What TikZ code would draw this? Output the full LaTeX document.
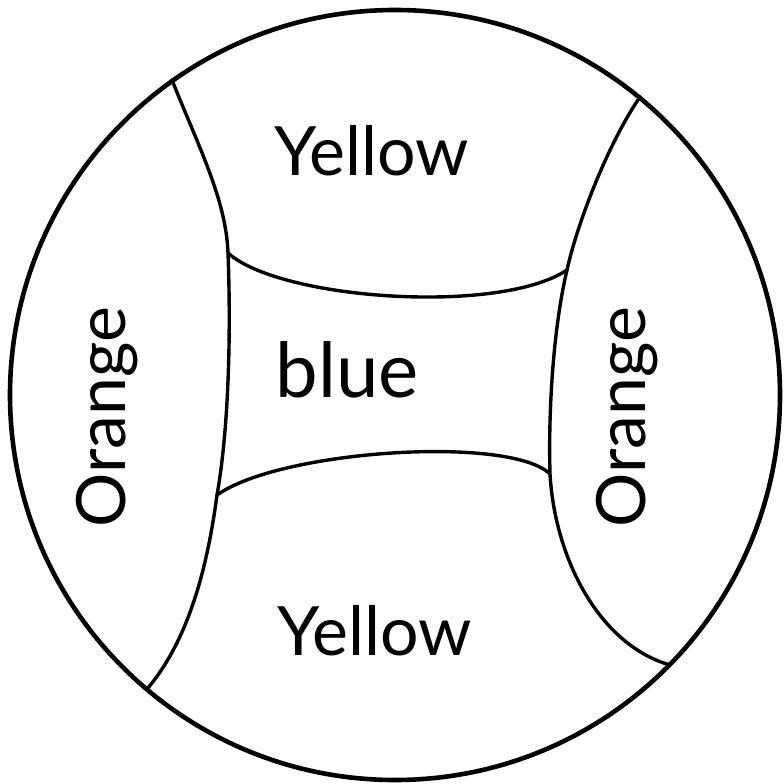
\documentclass[tikz,border=0pt]{standalone}
\usepackage{fontspec}
\setmainfont{Lato}
\begin{document}
\begin{tikzpicture}[x=1pt,y=-1pt,
  rim/.style={line width=4.6pt},
  seam/.style={line width=3.4pt, line cap=round, line join=round},
  lbl/.style={anchor=base, inner sep=0pt},
  big/.style={font=\fontsize{68}{80}\selectfont},
  bluefont/.style={font=\fontsize{76}{90}\selectfont},
  orfont/.style={font=\fontsize{68}{80}\selectfont}]
\useasboundingbox (0,0) rectangle (784,784);
\coordinate (C) at (395,395);
\coordinate (L1) at (172,80);
\coordinate (L2) at (228,253);
\coordinate (L3) at (217,495);
\coordinate (L4) at (148,688);
\coordinate (R1) at (640,97);
\coordinate (R2) at (567,270);
\coordinate (R3) at (550,474);
\coordinate (R4) at (670,665);
\draw[rim] (C) circle[radius=385pt];
% left seam
\draw[seam] (L1) .. controls (200,150) and (226,200) .. (L2)
                 .. controls (231,330) and (229,428) .. (L3)
                 .. controls (207,570) and (188,640) .. (L4);
% right seam
\draw[seam] (R1) .. controls (610,140) and (578,220) .. (R2)
                 .. controls (555,320) and (548,400) .. (R3)
                 .. controls (555,560) and (600,645) .. (R4);
% middle seams
\draw[seam] (L2) .. controls (280,300) and (500,315) .. (R2);
\draw[seam] (L3) .. controls (280,450) and (510,435) .. (R3);
% labels
\node[lbl,big] (ytop) at (372,175) {Yellow};
\node[lbl,bluefont] (bl) at (347,397) {blue};
\node[lbl,big] (ybot) at (375,655) {Yellow};
\node[lbl,orfont,rotate=90] (ol) at (125,417) {Orange};
\node[lbl,orfont,rotate=90] (or) at (645,417) {Orange};
\end{tikzpicture}
\end{document}
